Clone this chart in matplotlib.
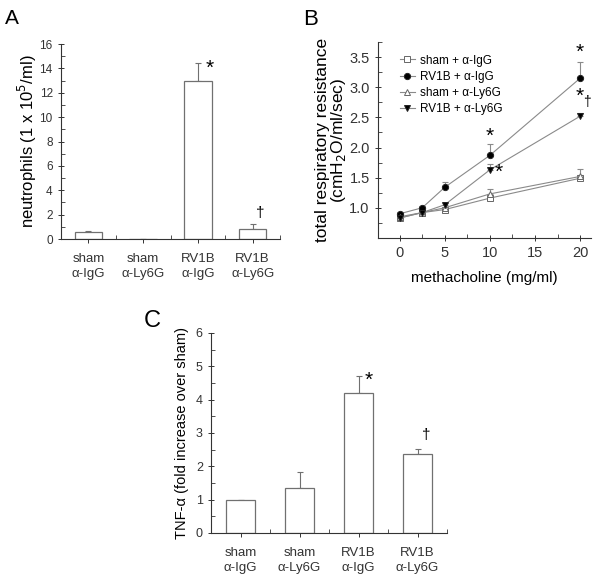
import matplotlib
matplotlib.use('Agg')
import matplotlib.pyplot as plt
from matplotlib.ticker import MultipleLocator, FixedLocator

plt.rcParams['font.family'] = ['Liberation Sans', 'DejaVu Sans']

# panel A - neutrophils
groups = ['sham\nα-IgG', 'sham\nα-Ly6G', 'RV1B\nα-IgG', 'RV1B\nα-Ly6G']
neutrophils = [0.55, 0.0, 13.0, 0.8]
neutrophils_err = [0.1, 0.0, 1.45, 0.4]

# panel B - respiratory resistance
mch = [0, 2.5, 5, 10, 20]
sham_igg = [0.83, 0.92, 0.97, 1.16, 1.49]
sham_igg_err = [0.02, 0.02, 0.02, 0.03, 0.05]
rv_igg = [0.90, 1.00, 1.34, 1.87, 3.15]
rv_igg_err = [0.03, 0.03, 0.08, 0.18, 0.27]
sham_ly = [0.85, 0.92, 1.00, 1.23, 1.52]
sham_ly_err = [0.02, 0.02, 0.02, 0.08, 0.12]
rv_ly = [0.83, 0.92, 1.05, 1.63, 2.52]
rv_ly_err = [0.03, 0.02, 0.03, 0.10, 0.06]

# panel C - TNF-alpha
tnf = [1.0, 1.35, 4.2, 2.37]
tnf_err = [0.0, 0.48, 0.52, 0.15]

bar_edge = '#707070'
line_col = '#8a8a8a'

fig = plt.figure(figsize=(6, 5.76), dpi=100)


def style_bar_axes(ax, ymax, ystep, tick_fs):
    for s in ['top', 'right']:
        ax.spines[s].set_visible(False)
    for s in ['left', 'bottom']:
        ax.spines[s].set_color('#333333')
        ax.spines[s].set_linewidth(0.8)
    ax.set_xlim(-0.5, 3.5)
    ax.set_ylim(0, ymax)
    ax.yaxis.set_major_locator(MultipleLocator(ystep))
    ax.yaxis.set_minor_locator(MultipleLocator(ystep / 2))
    ax.xaxis.set_minor_locator(FixedLocator([-0.5, 0.5, 1.5, 2.5, 3.5]))
    ax.tick_params(axis='y', which='major', direction='inout', length=5, width=0.7,
                   labelsize=tick_fs, colors='#333333')
    ax.tick_params(axis='y', which='minor', direction='in', length=3, width=0.6, colors='#333333')
    ax.tick_params(axis='x', which='major', direction='out', length=3, width=0.7,
                   labelsize=9.5, colors='#333333', pad=7)
    ax.tick_params(axis='x', which='minor', direction='in', length=3, width=0.6, colors='#333333')
    for lab in ax.get_xticklabels():
        lab.set_linespacing(1.3)


# A
axA = fig.add_axes([0.1017, 0.585, 0.365, 0.3385])
x = range(len(groups))
axA.bar(x, neutrophils, width=0.5, color='white', edgecolor=bar_edge, linewidth=0.9, zorder=2)
axA.errorbar(x, neutrophils, yerr=[[0] * 4, neutrophils_err], fmt='none', ecolor=bar_edge,
             elinewidth=0.8, capsize=2.5, capthick=0.8, zorder=1)
axA.set_xticks(list(x))
axA.set_xticklabels(groups)
style_bar_axes(axA, 16, 2, 8.5)
axA.set_ylabel('neutrophils (1 x 10$^5$/ml)', fontsize=12, labelpad=0)
axA.text(2.22, 14.0, '*', fontsize=15, ha='center', va='center')
axA.text(3.13, 2.1, '†', fontsize=11, ha='center', va='center')
fig.text(0.008, 0.985, 'A', fontsize=15, va='top', ha='left')

# B
axB = fig.add_axes([0.63, 0.587, 0.355, 0.34])
series = [
    (sham_igg, sham_igg_err, 's', 'white', 'sham + α-IgG'),
    (rv_igg, rv_igg_err, 'o', 'black', 'RV1B + α-IgG'),
    (sham_ly, sham_ly_err, '^', 'white', 'sham + α-Ly6G'),
    (rv_ly, rv_ly_err, 'v', 'black', 'RV1B + α-Ly6G'),
]
for vals, err, mk, fc, lab in series:
    axB.errorbar(mch, vals, yerr=[[0] * len(err), err], fmt='none', ecolor=line_col,
                 elinewidth=0.8, capsize=2, capthick=0.8, zorder=1)
    axB.plot(mch, vals, color=line_col, linewidth=0.8, marker=mk, markersize=4.5,
             markerfacecolor=fc, markeredgecolor='#222222' if fc == 'black' else '#666666',
             markeredgewidth=0.7, label=lab, zorder=2)
for s in ['top', 'right']:
    axB.spines[s].set_visible(False)
for s in ['left', 'bottom']:
    axB.spines[s].set_color('#333333')
    axB.spines[s].set_linewidth(0.8)
axB.set_xlim(-2.4, 21.2)
axB.set_ylim(0.5, 3.75)
axB.xaxis.set_major_locator(MultipleLocator(5))
axB.xaxis.set_minor_locator(MultipleLocator(2.5))
axB.yaxis.set_major_locator(FixedLocator([1.0, 1.5, 2.0, 2.5, 3.0, 3.5]))
axB.yaxis.set_minor_locator(MultipleLocator(0.25))
axB.tick_params(which='major', direction='inout', length=5, width=0.7, labelsize=10.5, colors='#333333')
axB.tick_params(which='minor', direction='in', length=3, width=0.6, colors='#333333')
axB.set_xlabel('methacholine (mg/ml)', fontsize=11, labelpad=8)
axB.set_ylabel('total respiratory resistance\n(cmH$_2$O/ml/sec)', fontsize=12.5, labelpad=1,
               linespacing=0.95)
axB.legend(loc='upper left', bbox_to_anchor=(0.08, 0.96), frameon=False, fontsize=8.5,
           handlelength=1.3, handletextpad=0.4, labelspacing=0.35, borderaxespad=0)
axB.text(20.0, 3.58, '*', fontsize=15, ha='center', va='center')
axB.text(19.9, 2.85, '*', fontsize=15, ha='center', va='center')
axB.text(20.75, 2.75, '†', fontsize=10, ha='center', va='center')
axB.text(10.0, 2.18, '*', fontsize=15, ha='center', va='center')
axB.text(10.95, 1.58, '*', fontsize=15, ha='center', va='center')
fig.text(0.505, 0.985, 'B', fontsize=16, va='top', ha='left')

# C
axC = fig.add_axes([0.352, 0.0747, 0.393, 0.3473])
axC.bar(x, tnf, width=0.5, color='white', edgecolor=bar_edge, linewidth=0.9, zorder=2)
axC.errorbar(x, tnf, yerr=[[0] * 4, tnf_err], fmt='none', ecolor=bar_edge,
             elinewidth=0.8, capsize=2.5, capthick=0.8, zorder=1)
axC.set_xticks(list(x))
axC.set_xticklabels(groups)
style_bar_axes(axC, 6, 1, 9)
axC.set_ylabel('TNF-α (fold increase over sham)', fontsize=10.5, labelpad=5)
axC.text(2.18, 4.59, '*', fontsize=15, ha='center', va='center')
axC.text(3.14, 2.94, '†', fontsize=11, ha='center', va='center')
fig.text(0.24, 0.462, 'C', fontsize=17, va='top', ha='left')

fig.savefig('out.png', dpi=100, facecolor='white')
